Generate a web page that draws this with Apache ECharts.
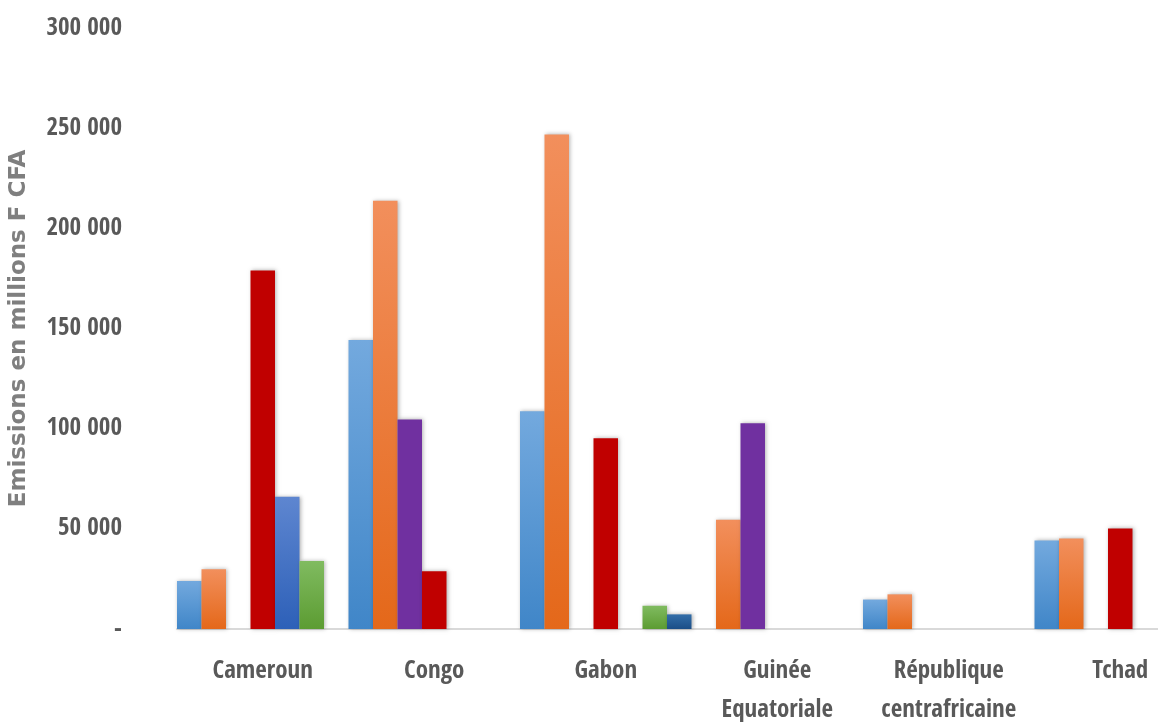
<!DOCTYPE html>
<html>
<head>
<meta charset="utf-8">
<script src="https://cdn.jsdelivr.net/npm/echarts@6/dist/echarts.min.js"></script>
<style>
html,body{margin:0;padding:0;background:#fff;}
#chart{width:1158px;height:722px;}
</style>
</head>
<body>
<div id="chart"></div>
<script>
var categories = ['Cameroun', 'Congo', 'Gabon', 'Guinée\nEquatoriale', 'République\ncentrafricaine', 'Tchad'];
var yTicks = [0, 50000, 100000, 150000, 200000, 250000, 300000];
var serie1 = [24000, 144300, 108700, null, 14700, 44200];
var serie2 = [29800, 213800, 246900, 54500, 17300, 45200];
var serie3 = [null, 104600, null, 102700, null, null];
var serie4 = [179000, 28800, 95200, null, null, 50200];
var serie5 = [66000, null, null, null, null, null];
var serie6 = [34000, null, 11600, null, null, null];
var serie7 = [null, null, 7300, null, null, null];
var seriesNames = ['Série 1', 'Série 2', 'Série 3', 'Série 4', 'Série 5', 'Série 6', 'Série 7'];

function grad(top, bottom) {
  return new echarts.graphic.LinearGradient(0, 0, 0, 1, [
    {offset: 0, color: top}, {offset: 1, color: bottom}
  ]);
}
var colors = [
  grad('#73a9de', '#4086c8'),
  grad('#f28f5c', '#e4681a'),
  '#7030a0',
  '#c00000',
  grad('#5e86d0', '#2d60b8'),
  grad('#80bb60', '#5c9c32'),
  grad('#336ea9', '#1b4e87')
];
var allData = [serie1, serie2, serie3, serie4, serie5, serie6, serie7];

var chart = echarts.init(document.getElementById('chart'), null, {renderer: 'canvas'});
var labelFont = '"Open Sans Condensed", "Roboto Condensed", "Liberation Sans Narrow", "DejaVu Sans Condensed", "Open Sans", sans-serif';
chart.setOption({
  animation: false,
  backgroundColor: '#ffffff',
  grid: {left: 177, right: -48, top: 28, bottom: 93, containLabel: false, outerBoundsMode: 'none'},
  xAxis: {
    type: 'category',
    data: categories,
    axisLine: {show: true, lineStyle: {color: '#d9d9d9', width: 2}},
    axisTick: {show: false},
    axisLabel: {
      interval: 0,
      color: '#595959',
      fontFamily: labelFont,
      fontWeight: 'bold',
      fontSize: 25,
      lineHeight: 39,
      margin: 23
    }
  },
  yAxis: {
    type: 'value',
    min: 0,
    max: 300000,
    interval: 50000,
    name: 'Emissions en millions F CFA',
    nameLocation: 'middle',
    nameGap: 146,
    nameTextStyle: {
      color: '#7f7f7f',
      fontFamily: '"DejaVu Sans", sans-serif',
      fontWeight: 'bold',
      fontSize: 23
    },
    axisLine: {show: false},
    axisTick: {show: false},
    splitLine: {show: false},
    axisLabel: {
      color: '#595959',
      fontFamily: labelFont,
      fontWeight: 'bold',
      fontSize: 25,
      margin: 55,
      formatter: function (v) {
        if (yTicks.indexOf(v) < 0) return '';
        if (v === 0) return '-';
        var s = String(v);
        return s.slice(0, s.length - 3) + ' ' + s.slice(s.length - 3);
      }
    }
  },
  series: allData.map(function (d, i) {
    return {
      name: seriesNames[i],
      type: 'bar',
      data: d,
      barGap: '0%',
      barCategoryGap: '0%',
      itemStyle: {
        color: colors[i],
        shadowColor: 'rgba(0,0,0,0.3)',
        shadowBlur: 4,
        shadowOffsetX: 1,
        shadowOffsetY: 0
      }
    };
  })
});
</script>
</body>
</html>
